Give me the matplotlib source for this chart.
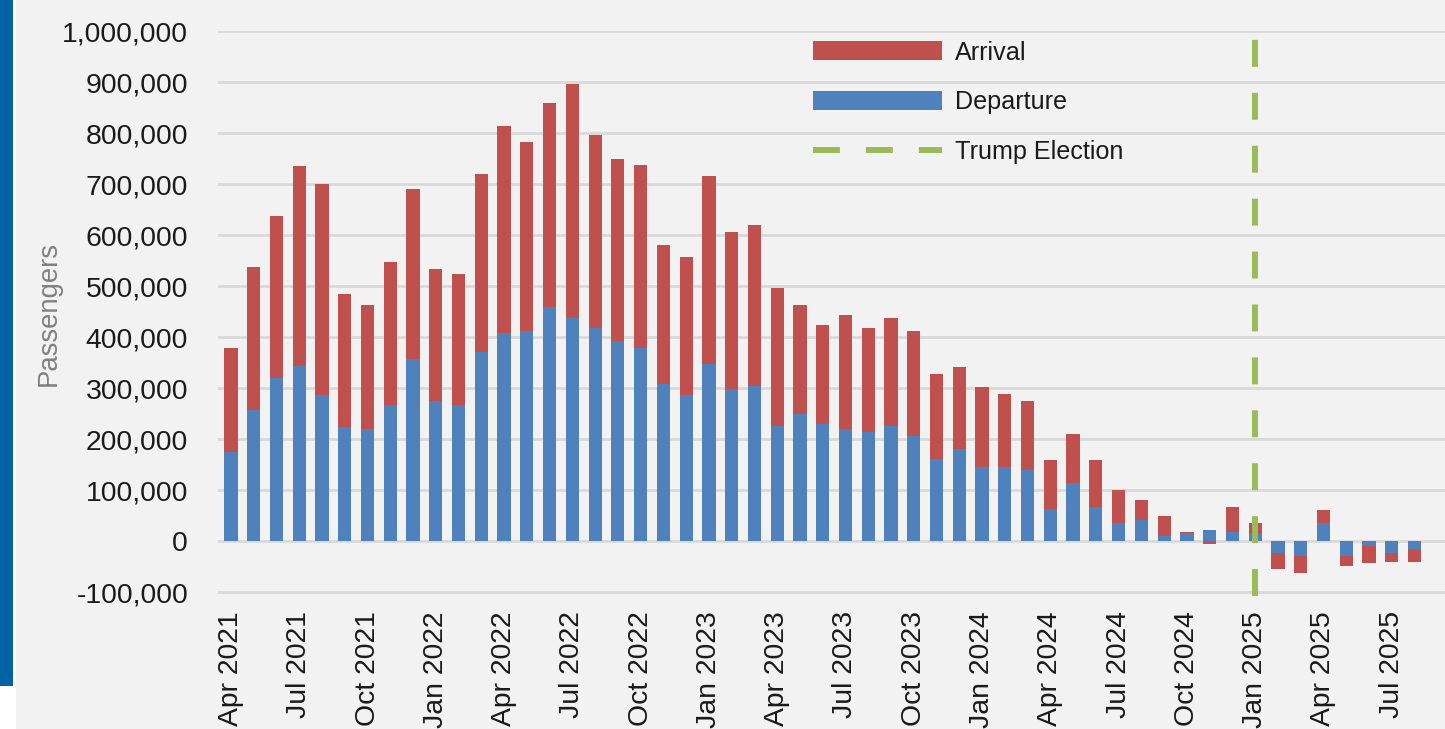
import matplotlib
matplotlib.use("Agg")
import matplotlib.pyplot as plt
from matplotlib.patches import Rectangle
from matplotlib.ticker import FuncFormatter, MultipleLocator

# ---------------- data (thousands of passengers) ----------------
months = [
    "Apr 2021", "May 2021", "Jun 2021", "Jul 2021", "Aug 2021", "Sep 2021",
    "Oct 2021", "Nov 2021", "Dec 2021",
    "Jan 2022", "Feb 2022", "Mar 2022", "Apr 2022", "May 2022", "Jun 2022",
    "Jul 2022", "Aug 2022", "Sep 2022", "Oct 2022", "Nov 2022", "Dec 2022",
    "Jan 2023", "Feb 2023", "Mar 2023", "Apr 2023", "May 2023", "Jun 2023",
    "Jul 2023", "Aug 2023", "Sep 2023", "Oct 2023", "Nov 2023", "Dec 2023",
    "Jan 2024", "Feb 2024", "Mar 2024", "Apr 2024", "May 2024", "Jun 2024",
    "Jul 2024", "Aug 2024", "Sep 2024", "Oct 2024", "Nov 2024", "Dec 2024",
    "Jan 2025", "Feb 2025", "Mar 2025", "Apr 2025", "May 2025", "Jun 2025",
    "Jul 2025", "Aug 2025",
]
departure_k = [
    175, 258, 321, 344, 286, 224, 221, 267, 357,
    275, 267, 371, 408, 412, 460, 438, 418, 393, 380, 309, 286,
    348, 298, 305, 227, 250, 230, 221, 214, 227, 207, 162, 182,
    146, 146, 140, 64, 114, 67, 36, 42, 10, 16, 22, 18,
    16, -23, -29, 36, -29, -10, -22, -15,
]
arrival_k = [
    205, 279, 316, 391, 414, 261, 242, 280, 333,
    258, 258, 349, 407, 370, 400, 459, 379, 357, 357, 272, 271,
    369, 309, 315, 270, 213, 195, 223, 204, 211, 205, 166, 160,
    157, 143, 135, 95, 96, 92, 65, 39, 40, 2, -5, 49,
    20, -32, -33, 25, -19, -32, -18, -25,
]
election_month = "Jan 2025"
tick_every = 3

departure = [v * 1000 for v in departure_k]
arrival = [v * 1000 for v in arrival_k]
arr_bottom = [d if (d >= 0) == (a >= 0) else 0 for d, a in zip(departure, arrival)]

# ---------------- style ----------------
W, H = 1445, 729
BG = "#F2F2F2"
RED = "#C0504D"
BLUE = "#4F81BD"
GREEN = "#9BBB59"
GRID = "#D9D9D9"
FONT = ["Liberation Sans", "DejaVu Sans"]
TXT = "#1a1a1a"

plt.rcParams["lines.scale_dashes"] = False
plt.rcParams["font.family"] = FONT

fig = plt.figure(figsize=(W / 100, H / 100), dpi=100, facecolor=BG)

# left white margin + blue stripe
fig.patches.append(Rectangle((0, 0), 16 / W, 1, transform=fig.transFigure,
                             facecolor="white", edgecolor="none", zorder=0))
fig.patches.append(Rectangle((0, (H - 686) / H), 13 / W, 686 / H,
                             transform=fig.transFigure, facecolor="#0063A5",
                             edgecolor="none", zorder=1))

ax_left, ax_top, ax_bottom = 218, 31.3, 595.9
ax = fig.add_axes([ax_left / W, (H - ax_bottom) / H, 1 - ax_left / W,
                   (ax_bottom - ax_top) / H])
ax.set_facecolor(BG)

x = list(range(len(months)))
bw = 0.58
ax.bar(x, departure, width=bw, color=BLUE, label="Departure", zorder=3)
ax.bar(x, arrival, width=bw, bottom=arr_bottom, color=RED, label="Arrival", zorder=3)

ex = months.index(election_month)
ax.axvline(ex, ymin=0, ymax=1, color=GREEN, lw=4.3,
           linestyle=(0, (19.4, 18.7)), label="Trump Election", zorder=4)

ax.set_xlim(-0.57, 53.34)
ax.set_ylim(-107000, 1000000)
ax.yaxis.set_major_locator(MultipleLocator(100000))
ax.yaxis.set_major_formatter(FuncFormatter(lambda v, p: f"{int(round(v)):,}"))
ax.grid(axis="y", color=GRID, lw=2.0, zorder=0)
ax.set_axisbelow(True)
for s in ax.spines.values():
    s.set_visible(False)

ax.tick_params(axis="y", length=0, pad=21.6, labelsize=20.4, labelcolor=TXT)

ax.set_xticks(x[::tick_every])
ax.set_xticklabels(months[::tick_every], rotation=90, fontsize=20.4,
                   color=TXT, ha="center", va="top")
ax.tick_params(axis="x", length=0, pad=11)

fig.text(49 / W, 1 - 313 / H, "Passengers", rotation=90, ha="center",
         va="center", fontsize=19.8, color="#808080")

handles, labels = ax.get_legend_handles_labels()
order = [labels.index("Arrival"), labels.index("Departure"), labels.index("Trump Election")]
leg = fig.legend([handles[i] for i in order], [labels[i] for i in order],
                 loc="upper left", bbox_to_anchor=(813 / W, 1 - 40.5 / H),
                 frameon=False, borderpad=0, borderaxespad=0,
                 handlelength=5.12, handleheight=0.79, handletextpad=0.52,
                 labelspacing=1.03, prop={"size": 18.1})
for t in leg.get_texts():
    t.set_color(TXT)

fig.savefig("out.png", dpi=100, facecolor=BG)
